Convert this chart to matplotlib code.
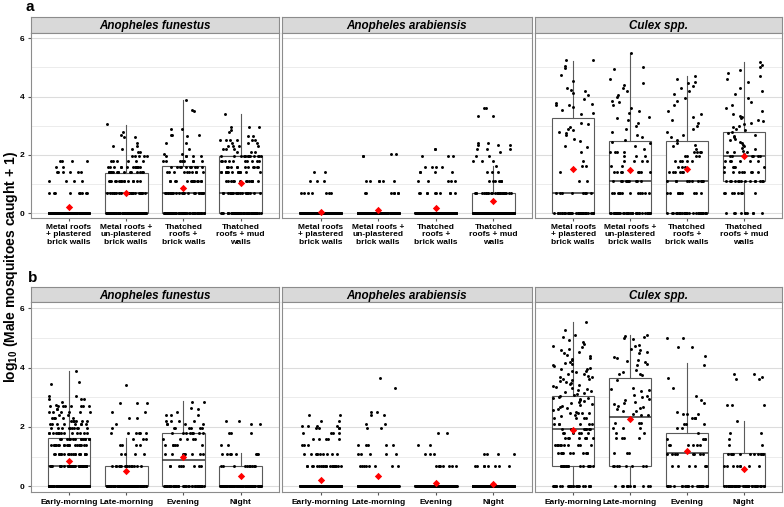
import numpy as np
import matplotlib
matplotlib.use("Agg")
import matplotlib.pyplot as plt

plt.rcParams["font.family"] = ["Liberation Sans", "DejaVu Sans"]
plt.rcParams["mathtext.fontset"] = "custom"
plt.rcParams["mathtext.rm"] = "Liberation Sans:bold"
plt.rcParams["mathtext.default"] = "rm"

W, H = 784, 507

SPECIES = ["Anopheles funestus", "Anopheles arabiensis", "Culex spp."]
HOUSE_LABELS = [
    "Metal roofs\n+ plastered\nbrick walls",
    "Metal roofs +\nun-plastered\nbrick walls",
    "Thatched\nroofs +\nbrick walls",
    "Thatched\nroofs + mud\nwalls",
]
TIME_LABELS = ["Early-morning", "Late-morning", "Evening", "Night"]

# box statistics: one row per species, one column per group
HOUSE_Q1 = [[0, 0, 0, 0], [0, 0, 0, 0], [0, 0, 0, 1.1]]
HOUSE_MED = [[0, 0.71, 0.7, 0.7], [0, 0, 0, 0], [0.71, 1.1, 1.1, 1.97]]
HOUSE_Q3 = [[0, 1.38, 1.61, 1.95], [0, 0, 0, 0.7], [3.27, 2.49, 2.49, 2.78]]
HOUSE_WHI = [[0, 3.03, 3.89, 3.39], [0, 0, 0, 1.62], [5.23, 5.49, 4.69, 5.17]]
HOUSE_MEAN = [[0.22, 0.71, 0.88, 1.04], [0.05, 0.12, 0.19, 0.41], [1.53, 1.5, 1.52, 1.95]]

TIME_Q1 = [[0, 0, 0, 0], [0, 0, 0, 0], [0.69, 0.69, 0, 0]]
TIME_MED = [[0.69, 0, 0.9, 0], [0, 0, 0, 0], [1.94, 2.32, 1.12, 0]]
TIME_Q3 = [[1.62, 0.69, 1.8, 0.69], [0, 0, 0, 0], [3.03, 3.66, 1.8, 1.12]]
TIME_WHI = [[3.9, 1.62, 2.86, 1.12], [0, 0, 0, 0], [5.53, 5.1, 4.17, 2.21]]
TIME_MEAN = [[0.85, 0.52, 0.98, 0.34], [0.21, 0.34, 0.12, 0.07], [1.91, 2.27, 1.19, 0.58]]

# individual catches (log10 scale)
FUN_HOUSE = [
    [0] * 109 + [0.7] * 9 + [1.1] * 4 + [1.4] * 6 + [1.6] * 2 + [1.8] * 4,
    [0] * 86 + [0.7] * 22 + [1.1] * 16 + [1.4] * 16 + [1.6] * 12 + [1.8] * 6 + [1.95] * 5
    + [2.1, 2.1, 2.22, 2.22, 2.32, 2.32, 2.4, 2.62, 2.62, 2.68, 2.8, 3.05],
    [0] * 57 + [0.7] * 22 + [1.1] * 14 + [1.4] * 10 + [1.6] * 10 + [1.8] * 8 + [1.95] * 5
    + [2.05, 2.05, 2.2, 2.4, 2.4, 2.65, 2.7, 2.7, 2.7, 2.9, 2.9, 3.5, 3.55, 3.89],
    [0] * 64 + [0.7] * 20 + [1.1] * 14 + [1.4] * 16 + [1.6] * 12 + [1.8] * 10 + [1.95] * 14
    + [2.1] * 3 + [2.2] * 3 + [2.3] * 4 + [2.4] * 3 + [2.5] * 6
    + [2.65, 2.65, 2.8, 2.85, 2.95, 2.95, 2.95, 3.39],
]
ARA_HOUSE = [
    [0] * 208 + [0.7] * 7 + [1.1] * 3 + [1.4] * 2,
    [0] * 148 + [0.7] * 7 + [1.1] * 6 + [1.95, 1.95, 2.05, 2.05],
    [0] * 150 + [0.7] * 10 + [1.1] * 5 + [1.4] * 4 + [1.6] * 4 + [1.95] * 3 + [2.2, 2.2],
    [0] * 119 + [0.7] * 25 + [1.1] * 7 + [1.4] * 3 + [1.62] + [1.8] * 3 + [1.95, 1.95, 2.1]
    + [2.2] * 3 + [2.35] * 3 + [2.4, 2.4, 3.35, 3.35, 3.6, 3.6],
]
CUL_HOUSE = [
    [0] * 35 + [0.7] * 8 + [1.1, 1.1, 1.4, 1.62, 1.62, 1.8]
    + [2.1, 2.28, 2.3, 2.48, 2.55, 2.68, 2.75, 2.8, 2.85, 2.88, 2.95, 3.05, 3.1, 3.42, 3.45,
       3.55, 3.65, 3.7, 3.72, 3.75, 3.78, 3.92, 4.05, 4.12, 4.2, 4.22, 4.28, 4.55, 4.75,
       4.97, 5.05, 5.25, 5.26],
    [0] * 35 + [0.7] * 12 + [1.1] * 10 + [1.4] * 8 + [1.62] * 2 + [1.8] * 4 + [1.95] * 3 + [2.1] * 4
    + [2.2, 2.3, 2.4, 2.45, 2.5, 2.6, 2.7, 2.8, 2.9, 3.0, 3.1, 3.2, 3.25, 3.3, 3.45, 3.5,
       3.6, 3.7, 3.8, 3.85, 4.0, 4.05, 4.2, 4.3, 4.4, 4.45, 4.6, 4.95, 5.0, 5.49],
    [0] * 30 + [0.7] * 10 + [1.1] * 10 + [1.4] * 6 + [1.6] * 3 + [1.8] * 5 + [1.95] * 4 + [2.1] * 4
    + [2.2, 2.3, 2.35, 2.4, 2.5, 2.6, 2.7, 2.8, 2.9, 3.0, 3.1, 3.2, 3.3, 3.4, 3.5, 3.7,
       3.85, 3.95, 4.1, 4.2, 4.3, 4.35, 4.45, 4.5, 4.6, 4.69],
    [0] * 10 + [0.7] * 8 + [1.1] * 14 + [1.4] * 8 + [1.6] * 5 + [1.8] * 6 + [1.95] * 6 + [2.1] * 3
    + [2.05, 2.15, 2.2, 2.25, 2.3, 2.35, 2.4, 2.45, 2.5, 2.55, 2.6, 2.65, 2.7, 2.75, 2.8,
       2.85, 2.9, 2.95, 3.0, 3.05, 3.1, 3.15, 3.2, 3.25, 3.3, 3.35, 3.4, 3.5, 3.6, 3.7,
       3.8, 3.95, 4.1, 4.2, 4.3, 4.5, 4.6, 4.7, 4.8, 4.9, 5.0, 5.1, 5.17],
]

FUN_TIME = [
    [0] * 148 + [0.7] * 30 + [1.1] * 20 + [1.4] * 20 + [1.6] * 14 + [1.8] * 14 + [1.95] * 10
    + [2.1] * 8 + [2.2] * 6 + [2.3] * 5 + [2.4] * 2 + [2.5] * 6 + [2.6] * 2 + [2.7] * 8
    + [2.75, 2.85, 2.95, 2.95, 2.95, 3.05, 3.05, 3.45, 3.5, 3.9],
    [0] * 76 + [0.7] * 15 + [1.1] * 4 + [1.4] * 4 + [1.6] * 3 + [1.8] * 6
    + [1.95, 2.1, 2.3, 2.3, 2.5, 2.5, 2.8, 2.8, 2.8, 3.4],
    [0] * 40 + [0.7] * 8 + [1.1] * 8 + [1.4] * 6 + [1.6] * 5 + [1.8] * 8 + [1.95] * 6 + [2.1] * 4
    + [2.2] * 4 + [2.4] * 3 + [2.5, 2.6, 2.65, 2.85, 2.85],
    [0] * 69 + [0.7] * 10 + [1.1] * 8 + [1.4] * 2 + [1.8] * 3 + [2.1, 2.1, 2.2, 2.2],
]
ARA_TIME = [
    [0] * 200 + [0.7] * 20 + [1.1] * 10 + [1.4] * 3 + [1.6] * 5 + [1.8] * 4 + [1.95] * 4
    + [2.05] * 4 + [2.2, 2.2, 2.4, 2.4],
    [0] * 120 + [0.7] * 8 + [1.1] * 5 + [1.4] * 5 + [1.95, 1.95, 2.1, 2.1, 2.4, 2.4, 2.5, 2.5, 3.3, 3.65],
    [0] * 150 + [0.7] * 8 + [1.1] * 3 + [1.4, 1.4, 1.8, 1.8],
    [0] * 180 + [0.7] * 8 + [1.1] * 4,
]
CUL_TIME = [
    [0] * 25 + [0.69] * 18 + [1.11] * 12 + [1.39] * 10 + [1.62] * 8 + [1.8] * 6 + [1.94] * 8
    + [2.1] * 6 + [2.3] * 4 + [2.47] * 4
    + [2.36, 2.4, 2.52, 2.56, 2.6, 2.64, 2.66, 2.7, 2.74, 2.77, 2.8, 2.83, 2.86, 2.9, 2.93,
       2.96, 2.99, 3.02, 3.05, 3.08, 3.11, 3.14, 3.17, 3.2, 3.24, 3.27, 3.3, 3.34, 3.37,
       3.4, 3.44, 3.47, 3.5, 3.54, 3.57, 3.6, 3.63, 3.67, 3.7, 3.73, 3.77, 3.8, 3.84, 3.87,
       3.9, 3.94, 3.97, 4.0, 4.04, 4.08, 4.12, 4.16, 4.2, 4.24, 4.28, 4.33, 4.38, 4.43,
       4.48, 4.53, 4.58, 4.63, 4.68, 4.74, 4.8, 4.87, 4.94, 5.02, 5.1, 5.27, 5.53],
    [0] * 12 + [0.69] * 8 + [1.11] * 3 + [1.62] * 4 + [1.8] * 2 + [1.97] * 3 + [2.14] * 3
    + [2.4, 2.4, 2.45, 2.53, 2.55, 2.6, 2.64, 2.66, 2.7, 2.79, 2.8, 2.83, 2.92, 2.95, 3.0,
       3.04, 3.08, 3.2, 3.25, 3.27, 3.3, 3.58, 3.74, 3.77, 3.8, 3.86, 3.92, 4.08, 4.12,
       4.2, 4.22, 4.25, 4.32, 4.36, 4.48, 4.52, 4.6, 4.64, 4.72, 4.75, 4.98, 5.0, 5.04,
       5.08, 5.1],
    [0] * 25 + [0.7] * 7 + [1.1] * 8 + [1.4] * 6 + [1.6] * 4 + [1.8] + [1.95] * 2 + [2.1] * 3
    + [2.3] * 4 + [2.45] * 3 + [2.5, 2.8, 2.9, 3.05, 3.3, 3.65, 4.1, 4.4, 4.7, 4.7, 5.0, 5.0],
    [0] * 40 + [0.7] * 8 + [1.1] * 12 + [1.4] * 2 + [1.6, 1.8, 1.8, 2.2]
    + [2.75] * 3 + [3.6, 3.6, 3.7, 3.8, 3.8],
]

# horizontal jitter only (like geom_jitter with height = 0)
JITTER = np.random.default_rng(7)


def px_axes(fig, left, top, right, bottom):
    return fig.add_axes([left / W, 1 - bottom / H, (right - left) / W, (bottom - top) / H])


def draw_panel(ax, pts, q1, med, q3, whi, mean):
    pos = np.arange(1, 5)
    stats = [dict(q1=q1[i], med=med[i], q3=q3[i], whislo=0, whishi=whi[i]) for i in range(4)]
    ax.bxp(stats, positions=pos, widths=0.75, showfliers=False, showcaps=False,
           patch_artist=True, manage_ticks=False, zorder=2,
           boxprops=dict(facecolor="white", edgecolor="#5a5a5a", linewidth=0.8),
           medianprops=dict(color="#333333", linewidth=1.1),
           whiskerprops=dict(color="#5a5a5a", linewidth=0.8))
    for i, vals in enumerate(pts):
        vals = np.asarray(vals, float)
        off = JITTER.uniform(-0.36, 0.36, len(vals))
        ax.scatter(pos[i] + off, vals, s=4.5, color="black", linewidths=0, zorder=3)
    ax.scatter(pos, mean, marker="D", s=14, color="red", linewidths=0, zorder=4)


def style_panel(ax, ylim, first, labels):
    ax.set_xlim(0.33, 4.67)
    ax.set_ylim(*ylim)
    ax.set_yticks([0, 2, 4, 6])
    ax.set_yticks([1, 3, 5], minor=True)
    ax.grid(True, axis="y", which="major", color="#dcdcdc", linewidth=0.8)
    ax.grid(True, axis="y", which="minor", color="#e9e9e9", linewidth=0.6)
    ax.set_axisbelow(True)
    ax.set_xticks(np.arange(1, 5))
    ax.set_xticklabels(labels, fontsize=6, fontweight="bold", linespacing=1.05)
    ax.tick_params(axis="x", length=2.5, color="#555555", pad=2)
    ax.tick_params(axis="y", which="minor", length=0)
    if first:
        ax.set_yticklabels(["0", "2", "4", "6"], fontsize=6, fontweight="bold")
        ax.tick_params(axis="y", which="major", length=2.5, color="#555555", pad=2)
    else:
        ax.tick_params(axis="y", which="major", length=0, labelleft=False)
    for sp in ax.spines.values():
        sp.set_color("#8c8c8c")
        sp.set_linewidth(0.8)


def add_strip(fig, left, top, right, bottom, title):
    sax = px_axes(fig, left, top, right, bottom)
    sax.set_facecolor("#d9d9d9")
    sax.set_xticks([])
    sax.set_yticks([])
    for sp in sax.spines.values():
        sp.set_color("#8c8c8c")
        sp.set_linewidth(0.8)
    sax.text(0.5, 0.45, title, ha="center", va="center", fontsize=8.4,
             fontweight="bold", fontstyle="italic", transform=sax.transAxes)


fig = plt.figure(figsize=(7.84, 5.07), dpi=100)

COLS = [(30.7, 279), (282, 532), (535, 782)]
ROWS = [
    # strip top, strip bottom / panel top, panel bottom, ylim, labels, data
    (17, 32.7, 218, (-0.16, 6.19), HOUSE_LABELS,
     [FUN_HOUSE, ARA_HOUSE, CUL_HOUSE], HOUSE_Q1, HOUSE_MED, HOUSE_Q3, HOUSE_WHI, HOUSE_MEAN),
    (287.3, 302.3, 492.3, (-0.2, 6.2), TIME_LABELS,
     [FUN_TIME, ARA_TIME, CUL_TIME], TIME_Q1, TIME_MED, TIME_Q3, TIME_WHI, TIME_MEAN),
]

for st, pt, pb, ylim, labels, pts, q1, med, q3, whi, mean in ROWS:
    for j, (l, r) in enumerate(COLS):
        add_strip(fig, l, st, r, pt, SPECIES[j])
        ax = px_axes(fig, l, pt, r, pb)
        draw_panel(ax, pts[j], q1[j], med[j], q3[j], whi[j], mean[j])
        style_panel(ax, ylim, j == 0, labels)

fig.text(26 / W, 1 - 11 / H, "a", fontsize=11, fontweight="bold", ha="left", va="baseline")
fig.text(28 / W, 1 - 282 / H, "b", fontsize=11, fontweight="bold", ha="left", va="baseline")
fig.text(11 / W, 1 - 267 / H, r"log$_{10}$ (Male mosquitoes caught + 1)", fontsize=10,
         fontweight="bold", rotation=90, ha="center", va="center")

fig.savefig("out.png", dpi=100, facecolor="white")
